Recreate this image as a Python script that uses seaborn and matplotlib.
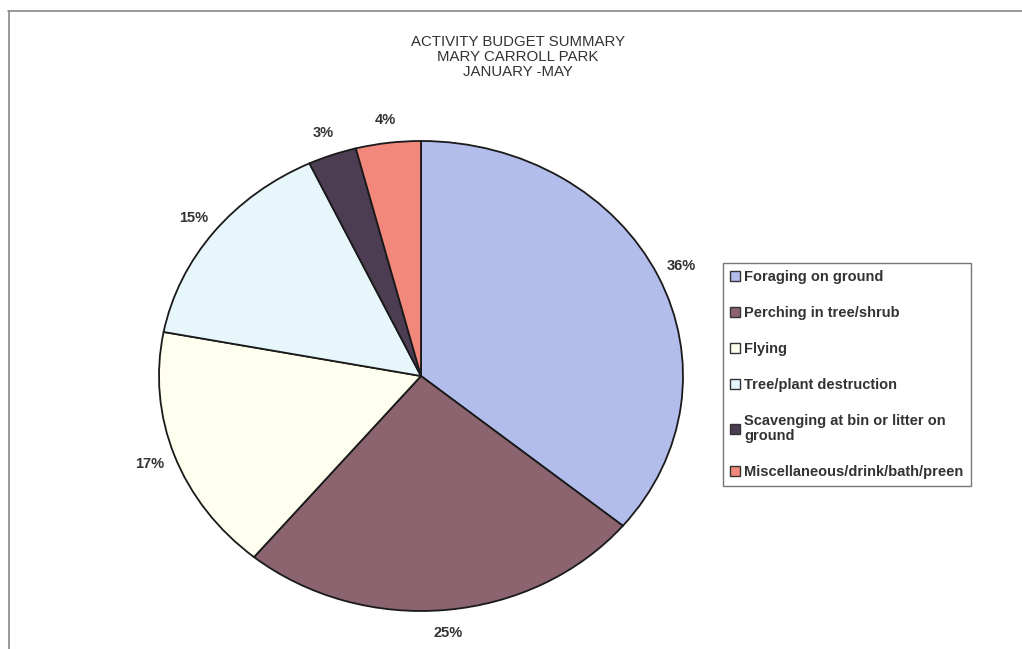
import matplotlib
matplotlib.use("Agg")
import matplotlib.pyplot as plt
from matplotlib.lines import Line2D
from matplotlib.patches import Patch
import seaborn as sns

# Activity budget data
activities = [
    "Foraging on ground",
    "Perching in tree/shrub",
    "Flying",
    "Tree/plant destruction",
    "Scavenging at bin or litter on\nground",
    "Miscellaneous/drink/bath/preen",
]
percent = [36, 25, 17, 15, 3, 4]
title_lines = ["ACTIVITY BUDGET SUMMARY", "MARY CARROLL PARK", "JANUARY -MAY"]

colors = ["#b3bdec", "#8b6470", "#fffff0", "#e6f6fb", "#4c3d52", "#f2877b"]

sns.set_theme(style="white")
plt.rcParams["font.family"] = ["Liberation Sans", "DejaVu Sans"]

W, H = 1022, 649
fig = plt.figure(figsize=(W / 100, H / 100), dpi=100)
fig.patch.set_facecolor("white")

# pie area (elliptical, as in the original spreadsheet chart)
cx, cy, rx, ry = 421, 376, 262, 235
ax = fig.add_axes([(cx - rx) / W, (H - cy - ry) / H, 2 * rx / W, 2 * ry / H])
wedges, texts, autotexts = ax.pie(
    percent,
    colors=colors,
    startangle=90,
    counterclock=False,
    autopct=lambda p: f"{p:.0f}%",
    pctdistance=1.1,
    wedgeprops=dict(edgecolor="#1a1a1a", linewidth=1.3),
    textprops=dict(fontsize=10.5, fontweight="bold", color="#333333"),
)
ax.set_aspect("auto")
ax.set_xlim(-1, 1)
ax.set_ylim(-1, 1)
ax.set_axis_off()
for w in wedges:
    w.set_clip_on(False)
for t in autotexts:
    t.set_clip_on(False)

# title
fig.text(518 / W, 1 - 57 / H, "\n".join(title_lines), ha="center", va="center",
         fontsize=10.8, color="#333333", linespacing=1.05)

# legend
handles = [Patch(facecolor=c, edgecolor="#333333", linewidth=1.0) for c in colors]
leg = fig.legend(
    handles, activities,
    loc="upper left",
    bbox_to_anchor=(723 / W, 1 - 263 / H),
    borderaxespad=0,
    frameon=True,
    fancybox=False,
    edgecolor="#555555",
    handlelength=0.65,
    handleheight=0.65,
    handletextpad=0.3,
    labelspacing=1.5,
    borderpad=0.5,
    prop=dict(size=10.5, weight="bold"),
)
leg._legend_box.align = "left"
leg.get_frame().set_linewidth(1.0)
for t in leg.get_texts():
    t.set_color("#333333")
    t.set_linespacing(1.1)

# outer frame lines
fig.add_artist(Line2D([8 / W, 1.0], [1 - 11 / H, 1 - 11 / H], color="#888888", linewidth=1.2,
                      transform=fig.transFigure))
fig.add_artist(Line2D([9 / W, 9 / W], [0, 1 - 11 / H], color="#888888", linewidth=1.2,
                      transform=fig.transFigure))

fig.savefig("out.png", dpi=100, facecolor="white")
